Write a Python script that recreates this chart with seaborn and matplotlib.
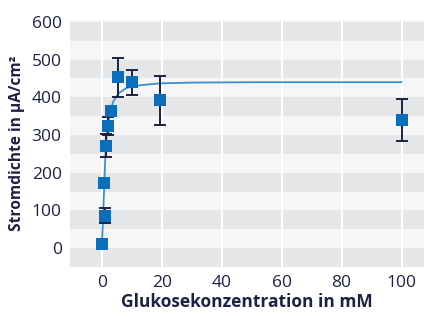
import numpy as np
import pandas as pd
import matplotlib
matplotlib.use("Agg")
import matplotlib.pyplot as plt
import seaborn as sns

glukose = [0, 1.0, 0.8, 1.3, 2.0, 3.0, 5.5, 10, 19.5, 100]
strom = [10, 86, 173, 272, 325, 364, 453, 440, 392, 340]
fehler = [0, 20, 0, 31, 24, 8, 52, 33, 65, 55]

# Fitkurve
fit_x = [0, 0.3, 0.6, 0.9, 1.2, 1.6, 2.2, 2.9, 3.8, 5.5, 8.3, 12.8, 19.4, 30, 50, 75, 100]
fit_y = [10, 55, 120, 185, 245, 295, 335, 365, 388, 410, 425, 432, 437, 439, 440, 440, 440]

x_ticks = [0, 20, 40, 60, 80, 100]
y_ticks = [0, 100, 200, 300, 400, 500, 600]

navy = "#1d2245"
blau = "#0a6fba"
linie = "#3a8fd0"
dunkel = "#e5e6e8"
hell = "#f6f6f7"

sns.set_theme(style="white")
plt.rcParams["font.family"] = ["Open Sans", "DejaVu Sans"]

df = pd.DataFrame({"x": glukose, "y": strom, "err": fehler})
fit = pd.DataFrame({"x": fit_x, "y": fit_y})

fig = plt.figure(figsize=(4.24, 3.18), dpi=100)
ax = fig.add_axes([70 / 424, 1 - 267 / 318, 1 - 70 / 424, (267 - 20) / 318])
ax.set_facecolor(hell)

# Streifen im Hintergrund
for lo in range(-50, 600, 100):
    ax.axhspan(lo, lo + 50, color=dunkel, lw=0, zorder=0)
for xt in x_ticks:
    ax.axvline(xt, color="white", lw=1.5, zorder=0.5)

sns.lineplot(data=fit, x="x", y="y", color=linie, lw=1.3, ax=ax, zorder=2)
ax.errorbar(df["x"], df["y"], yerr=df["err"], fmt="none", ecolor=navy,
            elinewidth=1.4, capsize=4, capthick=1.4, zorder=3)
sns.scatterplot(data=df, x="x", y="y", marker="s", s=75, color=blau,
                edgecolor="none", ax=ax, zorder=4)

ax.set_xlim(-10.6, 107.5)
ax.set_ylim(-50, 605)
ax.set_xticks(x_ticks)
ax.set_yticks(y_ticks)
ax.tick_params(axis="both", length=0, labelsize=12.5, colors=navy, pad=6)
for s in ax.spines.values():
    s.set_visible(False)

ax.set_xlabel("Glukosekonzentration in mM", fontsize=12.5, fontweight="bold",
              color=navy, labelpad=1)
ax.set_ylabel("Stromdichte in µA/cm²", fontsize=11.2, fontweight="bold",
              color=navy, labelpad=5)

fig.savefig("out.png", dpi=100)
